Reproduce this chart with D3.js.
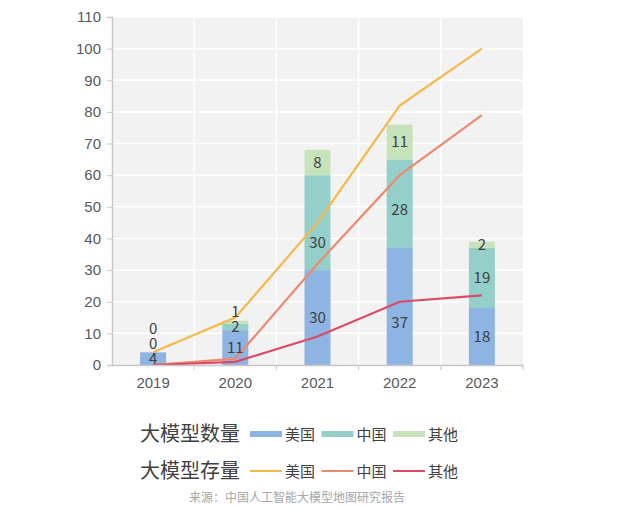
<!DOCTYPE html>
<html>
<head>
<meta charset="utf-8">
<script src="https://cdn.jsdelivr.net/npm/d3@7"></script>
<style>
  body { margin: 0; background: #fff; }
  text { font-family: "Noto Sans CJK SC", "Liberation Sans", sans-serif; }
</style>
</head>
<body>
<script>
var w = 622;
var h = 510;

// data
var years = ["2019", "2020", "2021", "2022", "2023"];
var countUS = [4, 11, 30, 37, 18];
var countCN = [0, 2, 30, 28, 19];
var countOther = [0, 1, 8, 11, 2];
var stockUS = [4, 15, 45, 82, 100];
var stockCN = [0, 2, 32, 60, 79];
var stockOther = [0, 1, 9, 20, 22];
var yTicks = [0, 10, 20, 30, 40, 50, 60, 70, 80, 90, 100, 110];
var seriesNames = ["美国", "中国", "其他"];

var barColors = ["#8db4e2", "#95cfc9", "#c7e3bb"];
var lineColors = ["#f5b84a", "#ec8a6f", "#dc4a66"];

// labels moved off the lines by hand in the original (px, downward)
var labelNudge = { "2021-1": 20, "2022-0": 16, "2022-1": 6 };

var margin = { top: 17, right: 99, bottom: 145, left: 112 };
var plotW = w - margin.left - margin.right;
var plotH = h - margin.top - margin.bottom;

var svg = d3.select("body").append("svg")
  .attr("width", w)
  .attr("height", h);

var g = svg.append("g")
  .attr("transform", "translate(" + [margin.left, margin.top] + ")");

var x = d3.scaleBand().domain(years).range([0, plotW]);
var y = d3.scaleLinear().domain([0, 110]).range([plotH, 0]);

// plot background
g.append("rect")
  .attr("width", plotW)
  .attr("height", plotH)
  .attr("fill", "#f2f2f2");

// grid lines
g.selectAll(".hgrid").data(yTicks.slice(1))
  .enter().append("line")
  .attr("x1", 0).attr("x2", plotW)
  .attr("y1", d => y(d)).attr("y2", d => y(d))
  .attr("stroke", "#fff").attr("stroke-width", 1.5);

g.selectAll(".vgrid").data(years.slice(1))
  .enter().append("line")
  .attr("x1", d => x(d)).attr("x2", d => x(d))
  .attr("y1", 0).attr("y2", plotH)
  .attr("stroke", "#fff").attr("stroke-width", 1.5);

// stacked bars
var rows = years.map((yr, i) => ({ year: yr, v: [countUS[i], countCN[i], countOther[i]] }));
var stack = d3.stack().keys([0, 1, 2]).value((d, k) => d.v[k]);
var layers = stack(rows);
var barW = 26;

layers.forEach((layer, k) => {
  g.selectAll(".bar" + k).data(layer)
    .enter().append("rect")
    .attr("x", d => x(d.data.year) + x.bandwidth() / 2 - barW / 2)
    .attr("y", d => y(d[1]))
    .attr("width", barW)
    .attr("height", d => y(d[0]) - y(d[1]))
    .attr("fill", barColors[k]);
});

// lines
var stocks = [stockUS, stockCN, stockOther];
var line = d3.line()
  .x((d, i) => x(years[i]) + x.bandwidth() / 2)
  .y(d => y(d));

stocks.forEach((s, k) => {
  g.append("path")
    .datum(s)
    .attr("d", line)
    .attr("fill", "none")
    .attr("stroke", lineColors[k])
    .attr("stroke-width", 2.2);
});

// bar labels, pushed up when they overlap
rows.forEach((r, i) => {
  var prevY = Infinity;
  layers.forEach((layer, k) => {
    var d = layer[i];
    var ly = Math.min(y((d[0] + d[1]) / 2), prevY - 15);
    prevY = ly;
    g.append("text")
      .attr("x", x(r.year) + x.bandwidth() / 2)
      .attr("y", ly + (labelNudge[r.year + "-" + k] || 0))
      .attr("dy", "0.36em")
      .attr("text-anchor", "middle")
      .attr("font-size", 15)
      .attr("fill", "#404040")
      .text(d.data.v[k]);
  });
});

// axes
var yAxis = g.append("g")
  .call(d3.axisLeft(y).tickValues(yTicks).tickSize(5).tickPadding(6));
var xAxis = g.append("g")
  .attr("transform", "translate(0," + plotH + ")")
  .call(d3.axisBottom(x).tickSize(0).tickPadding(12));

xAxis.selectAll(".bnd").data(years.slice(1).concat(["end"]))
  .enter().append("line")
  .attr("x1", d => d == "end" ? plotW : x(d))
  .attr("x2", d => d == "end" ? plotW : x(d))
  .attr("y1", 0).attr("y2", 5)
  .attr("stroke", "#c8c8c8");

[yAxis, xAxis].forEach(a => {
  a.select(".domain").attr("stroke", "#c8c8c8").attr("stroke-width", 1.5);
  a.selectAll(".tick line").attr("stroke", "#c8c8c8");
  a.selectAll("text")
    .attr("font-size", 15)
    .attr("fill", "#595959")
    .style("font-family", "'Liberation Sans', sans-serif");
});

// legend
var legend = svg.append("g").attr("transform", "translate(140,0)");
var legendRows = [
  { title: "大模型数量", colors: barColors, bar: true, y: 434 },
  { title: "大模型存量", colors: lineColors, bar: false, y: 471 }
];

legendRows.forEach(r => {
  legend.append("text")
    .attr("x", 0).attr("y", r.y)
    .attr("dy", "0.36em")
    .attr("font-size", 20)
    .attr("fill", "#404040")
    .text(r.title);
  seriesNames.forEach((n, k) => {
    var lx = 110 + k * 71.5;
    legend.append("rect")
      .attr("x", lx).attr("y", r.y - (r.bar ? 3 : 1))
      .attr("width", 32).attr("height", r.bar ? 6 : 2)
      .attr("fill", r.colors[k]);
    legend.append("text")
      .attr("x", lx + 35).attr("y", r.y + 1)
      .attr("dy", "0.36em")
      .attr("font-size", 15)
      .attr("fill", "#404040")
      .text(n);
  });
});

// source
svg.append("text")
  .attr("x", 297).attr("y", 498)
  .attr("dy", "0.36em")
  .attr("text-anchor", "middle")
  .attr("font-size", 12)
  .attr("fill", "#a6a6a6")
  .text("来源：中国人工智能大模型地图研究报告");
</script>
</body>
</html>
